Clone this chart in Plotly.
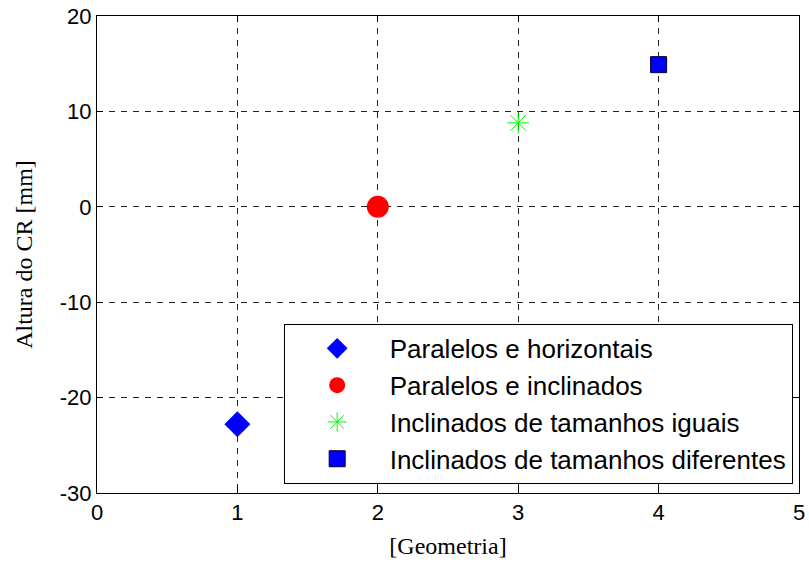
import plotly.graph_objects as go

names = ["Paralelos e horizontais", "Paralelos e inclinados",
         "Inclinados de tamanhos iguais", "Inclinados de tamanhos diferentes"]
geometria = [1, 2, 3, 4]
altura = [-22.8, 0.0, 8.8, 14.9]
x_ticks = [0, 1, 2, 3, 4, 5]
x_ticktext = ["0", "1", "2", "3", "4", "5"]
y_ticks = [-30, -20, -10, 0, 10, 20]
y_ticktext = ["-30", "-20", "-10", "0", "10", "20"]
symbols = ["diamond", "circle", "asterisk-open", "square"]
colors = ["#0000ff", "#ff0000", "#00ff00", "#0000ff"]
sizes = [20, 22, 18, 16]
line_colors = ["#0000ff", "#ff0000", "#00ff00", "#000033"]
line_widths = [0, 0, 1, 1]

fig = go.Figure()
for i in range(4):
    fig.add_trace(go.Scatter(
        x=[geometria[i]], y=[altura[i]], mode="markers", name=names[i],
        legendgroup=f"g{i}",
        marker=dict(symbol=symbols[i], color=colors[i], size=sizes[i],
                    line=dict(color=line_colors[i], width=line_widths[i]))))

tick_font = dict(family="Liberation Sans, Arial", size=22, color="black")
title_font = dict(family="Liberation Serif, Times New Roman", size=24, color="black")
axis_common = dict(showline=True, linecolor="black", linewidth=1, mirror="ticks",
                   ticks="inside", ticklen=6, tickcolor="black",
                   showgrid=True, gridcolor="#222222", griddash="6px,6px", gridwidth=1,
                   zeroline=False, automargin=False, tickfont=tick_font)

fig.update_xaxes(range=[0, 5], tickvals=x_ticks, ticktext=x_ticktext,
                 title=dict(text="[Geometria]", font=title_font, standoff=12),
                 **axis_common)
fig.update_yaxes(range=[-30, 20], tickvals=y_ticks, ticktext=y_ticktext,
                 title=dict(text="Altura do CR [mm]", font=title_font, standoff=20),
                 **axis_common)

fig.update_layout(
    width=809, height=568,
    margin=dict(l=97, r=10, t=16, b=75),
    plot_bgcolor="white", paper_bgcolor="white",
    showlegend=True,
    legend=dict(x=0.991, y=0.019, xanchor="right", yanchor="bottom",
                bgcolor="white", bordercolor="black", borderwidth=1,
                font=dict(family="Liberation Sans, Arial", size=26, color="black"),
                tracegroupgap=0, itemwidth=95),
)

fig.write_html("out.html", config={"displayModeBar": False},
               post_script="document.body.style.margin='0px';")
